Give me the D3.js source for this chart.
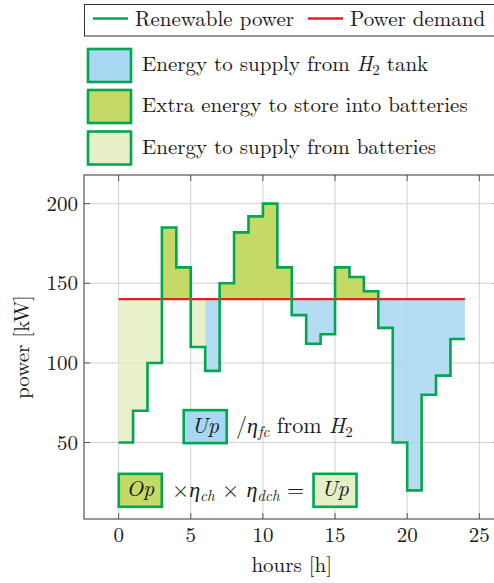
<!DOCTYPE html>
<html>
<head>
<meta charset="utf-8">
<script src="https://cdn.jsdelivr.net/npm/d3@7"></script>
<style>
  html, body { margin: 0; padding: 0; background: #fff; }
  svg { display: block; }
</style>
</head>
<body>
<svg id="chart" width="494" height="583" font-family="'Latin Modern Roman', 'CMU Serif', 'Liberation Serif', serif"></svg>
<script>
// ---- data ----
const hours = [0,1,2,3,4,5,6,7,8,9,10,11,12,13,14,15,16,17,18,19,20,21,22,23];
const renewable = [50,70,100,185,160,110,95,150,182,192,200,160,130,112,118,160,154,145,122,50,20,80,92,115];
const demand = 140;
const endHour = 24;
// source for each hour: "extra" (surplus stored), "bat" (supplied by batteries), "h2" (supplied by H2 tank)
const source = ["bat","bat","bat","extra","extra","bat","h2","extra","extra","extra","extra","extra",
                "h2","h2","h2","extra","extra","extra","h2","h2","h2","h2","h2","h2"];
const xTicks = [0,5,10,15,20,25];
const yTicks = [50,100,150,200];
const legendLines = ["Renewable power", "Power demand"];

// ---- styles ----
const cGreenLine = "#00a650";
const cRed = "#ed1c24";
const cText = "#1a1a1a";
const fills = { h2: "#a7d7f1", extra: "#c5d966", bat: "#e6efc6" };
const fillOpacity = { h2: 0.85, extra: 1, bat: 0.9 };

const svg = d3.select("#chart");
const pL = 84, pT = 175, pR = 499.5, pB = 519;
const fs = 21, fsSub = 15;

const x = d3.scaleLinear().domain([-2.4, 26.4]).range([pL, pR]);
const y = d3.scaleLinear().domain([2, 218]).range([pB, pT]);

// clip to plot
svg.append("defs").append("clipPath").attr("id","plotclip")
  .append("rect").attr("x", pL).attr("y", pT).attr("width", pR-pL).attr("height", pB-pT);

// grid
const grid = svg.append("g").attr("stroke", "#d2d2d2").attr("stroke-width", 1);
xTicks.forEach(t => grid.append("line").attr("x1", x(t)).attr("x2", x(t)).attr("y1", pT).attr("y2", pB));
yTicks.forEach(t => grid.append("line").attr("x1", pL).attr("x2", pR).attr("y1", y(t)).attr("y2", y(t)));

// fills in contiguous runs
const plot = svg.append("g").attr("clip-path", "url(#plotclip)");
const runs = [];
hours.forEach((h, i) => {
  const s = source[i];
  const last = runs[runs.length-1];
  if (last && last.s === s && last.end === h) {
    last.pts.push({h, v: renewable[i]});
    last.end = h + 1;
  } else {
    runs.push({s, pts: [{h, v: renewable[i]}], end: h + 1});
  }
});
const area = d3.area().curve(d3.curveStepAfter)
  .x(d => x(d.h)).y0(y(demand)).y1(d => y(d.v));
runs.forEach(r => {
  const pts = r.pts.concat([{h: r.end, v: r.pts[r.pts.length-1].v}]);
  plot.append("path").attr("d", area(pts))
    .attr("fill", fills[r.s]).attr("fill-opacity", fillOpacity[r.s]).attr("stroke", "none");
});

// demand line
plot.append("line").attr("x1", x(0)).attr("x2", x(endHour)).attr("y1", y(demand)).attr("y2", y(demand))
  .attr("stroke", cRed).attr("stroke-width", 2.2);

// renewable step line
const linePts = hours.map((h, i) => ({h, v: renewable[i]})).concat([{h: endHour, v: renewable[renewable.length-1]}]);
const line = d3.line().curve(d3.curveStepAfter).x(d => x(d.h)).y(d => y(d.v));
plot.append("path").attr("d", line(linePts)).attr("fill", "none")
  .attr("stroke", cGreenLine).attr("stroke-width", 2.6).attr("stroke-linejoin", "miter");

// frame
svg.append("rect").attr("x", pL).attr("y", pT).attr("width", pR-pL).attr("height", pB-pT)
  .attr("fill", "none").attr("stroke", "#333").attr("stroke-width", 1);

// ticks (inside, both sides)
const tk = svg.append("g").attr("stroke", "#555").attr("stroke-width", 1);
const tl = 6;
xTicks.forEach(t => {
  tk.append("line").attr("x1", x(t)).attr("x2", x(t)).attr("y1", pB).attr("y2", pB-tl);
  tk.append("line").attr("x1", x(t)).attr("x2", x(t)).attr("y1", pT).attr("y2", pT+tl);
});
yTicks.forEach(t => {
  tk.append("line").attr("x1", pL).attr("x2", pL+tl).attr("y1", y(t)).attr("y2", y(t));
  tk.append("line").attr("x1", pR).attr("x2", pR-tl).attr("y1", y(t)).attr("y2", y(t));
});

// tick labels
xTicks.forEach(t => svg.append("text").attr("x", x(t)).attr("y", 542).attr("text-anchor","middle")
  .attr("font-size", fs).attr("fill", cText).text(t));
yTicks.forEach(t => svg.append("text").attr("x", pL-6).attr("y", y(t)+7).attr("text-anchor","end")
  .attr("font-size", fs).attr("fill", cText).text(t));

// axis labels
svg.append("text").attr("x", x(12)).attr("y", 572).attr("text-anchor","middle").attr("font-size", fs)
  .attr("fill", cText).text("hours [h]");
svg.append("text").attr("transform", `translate(29,${(pT+pB)/2}) rotate(-90)`).attr("text-anchor","middle")
  .attr("font-size", fs).attr("fill", cText).text("power [kW]");

// ---- legend 1 (lines) ----
svg.append("rect").attr("x", 84.5).attr("y", 4.5).attr("width", 430).attr("height", 31.5)
  .attr("fill", "#fff").attr("stroke", "#333").attr("stroke-width", 1);
const l1 = [{label: legendLines[0], c: cGreenLine, x0: 93}, {label: legendLines[1], c: cRed, x0: 308}];
l1.forEach(d => {
  svg.append("line").attr("x1", d.x0).attr("x2", d.x0+35).attr("y1", 18.5).attr("y2", 18.5)
    .attr("stroke", d.c).attr("stroke-width", 2.4);
  svg.append("text").attr("x", d.x0+42).attr("y", 25.5).attr("font-size", fs).attr("fill", cText).text(d.label);
});

// ---- legend 2 (areas) ----
const l2 = [
  {k: "h2", y0: 49, parts: [["Energy to supply from ", false], ["H", true], ["2", false, "sub"], [" tank", false, "after"]]},
  {k: "extra", y0: 90, parts: [["Extra energy to store into batteries", false]]},
  {k: "bat", y0: 131.5, parts: [["Energy to supply from batteries", false]]}
];
l2.forEach(d => {
  svg.append("rect").attr("x", 88).attr("y", d.y0).attr("width", 43).attr("height", 33)
    .attr("fill", fills[d.k]).attr("stroke", cGreenLine).attr("stroke-width", 2.6);
  const t = svg.append("text").attr("x", 142).attr("y", d.y0+22).attr("font-size", fs).attr("fill", cText);
  d.parts.forEach(p => {
    const ts = t.append("tspan").text(p[0]);
    if (p[1]) ts.attr("font-style", "italic");
    if (p[2] === "sub") ts.attr("dy", 4).attr("font-size", fsSub);
    if (p[2] === "after") ts.attr("dy", -4);
  });
});

// ---- annotations ----
function box(cx, cy, k, label) {
  const g = svg.append("g");
  g.append("rect").attr("x", x(cx)-21.5).attr("y", y(cy)-16.5).attr("width", 43).attr("height", 33)
    .attr("fill", fills[k]).attr("stroke", cGreenLine).attr("stroke-width", 2.6);
  g.append("text").attr("x", x(cx)).attr("y", y(cy)+6).attr("text-anchor", "middle")
    .attr("font-size", 22).attr("font-style", "italic").attr("fill", cText).text(label);
}
box(6, 60, "h2", "Up");
box(1.5, 20, "extra", "Op");
box(15, 20, "bat", "Up");

// text: /η_fc from H2
const a1 = svg.append("text").attr("x", 236).attr("y", y(60)+6.5).attr("font-size", 22).attr("fill", cText);
a1.append("tspan").text("/");
a1.append("tspan").attr("font-style","italic").text("η");
a1.append("tspan").attr("font-style","italic").attr("font-size", fsSub).attr("dy", 4).text("fc");
a1.append("tspan").attr("dy", -4).text(" from ");
a1.append("tspan").attr("font-style","italic").text("H");
a1.append("tspan").attr("font-size", fsSub).attr("dy", 4).text("2");

// text: ×η_ch × η_dch =
const a2 = svg.append("text").attr("x", 172).attr("y", y(20)+6.5).attr("font-size", 22).attr("fill", cText);
a2.append("tspan").text("×");
a2.append("tspan").attr("font-style","italic").text("η");
a2.append("tspan").attr("font-style","italic").attr("font-size", fsSub).attr("dy", 4).text("ch");
a2.append("tspan").attr("dy", -4).text(" × ");
a2.append("tspan").attr("font-style","italic").text("η");
a2.append("tspan").attr("font-style","italic").attr("font-size", fsSub).attr("dy", 4).text("dch");
a2.append("tspan").attr("dy", -4).text(" =");
</script>
</body>
</html>
